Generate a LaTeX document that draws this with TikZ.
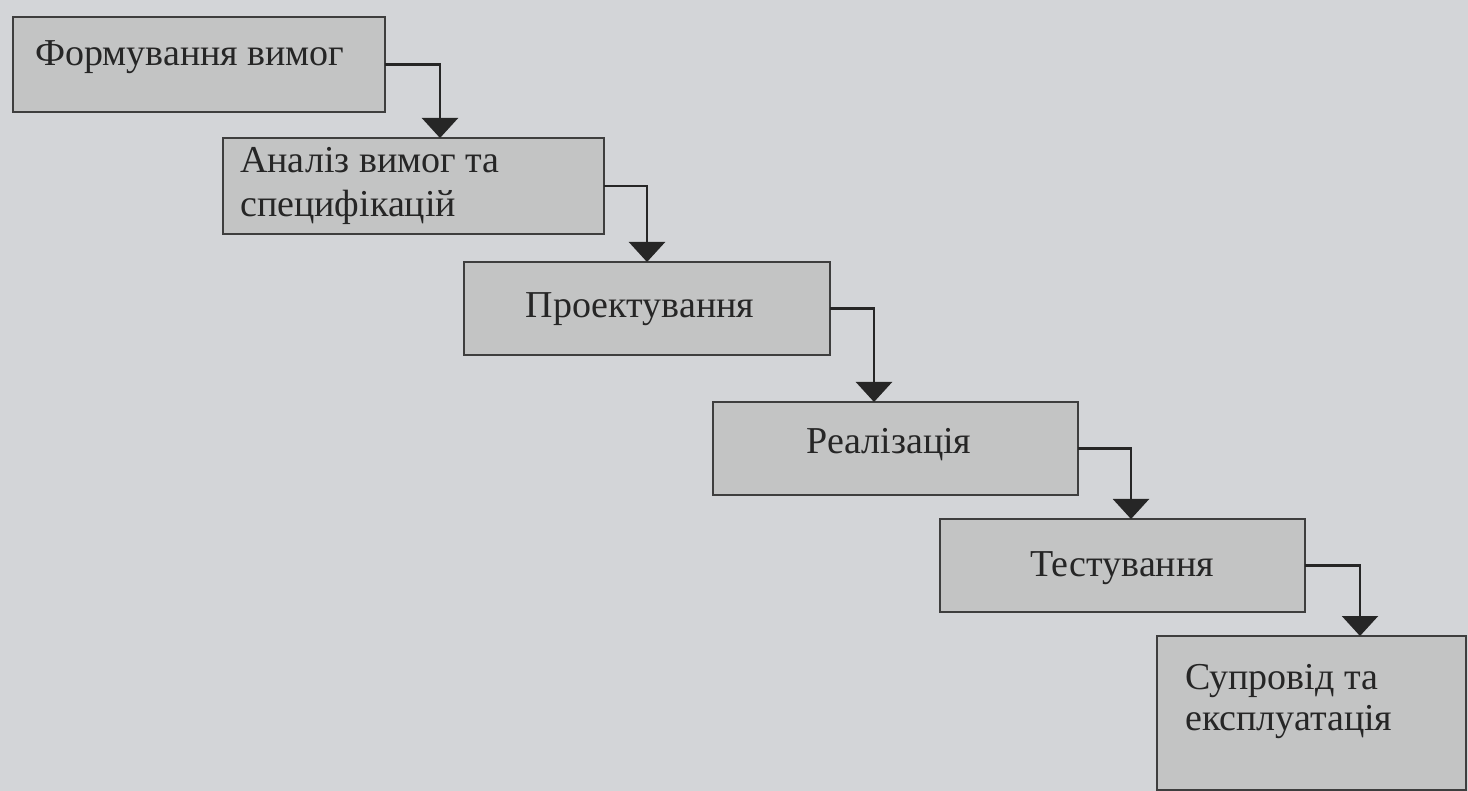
\documentclass[tikz,border=0pt]{standalone}
\usepackage{fontspec}
\setmainfont{Liberation Serif}
\usetikzlibrary{arrows.meta}
\definecolor{bg}{HTML}{D3D5D8}
\definecolor{boxfill}{HTML}{C3C4C4}
\definecolor{boxline}{HTML}{3E3E3E}
\definecolor{ink}{HTML}{262626}
\tikzset{
  stagebox/.style={draw=boxline, line width=2.6pt, fill=boxfill, anchor=north west,
    inner sep=0pt, outer sep=0pt},
  label text/.style={text=ink, inner sep=0pt, align=left,
    font=\fontsize{38}{44}\selectfont},
  flow/.style={draw=ink, line width=2.4pt,
    -{Triangle[width=36pt,length=20pt]}}
}
\begin{document}
\begin{tikzpicture}[x=1pt,y=-1pt]
\fill[bg] (0,0) rectangle (1468,791);
\useasboundingbox (0,0) rectangle (1468,791);
% boxes
\node[stagebox, minimum width=372pt, minimum height=95pt] (b1) at (13,17) {};
\node[stagebox, minimum width=381pt, minimum height=96pt] (b2) at (223,138) {};
\node[stagebox, minimum width=366pt, minimum height=93pt] (b3) at (464,262) {};
\node[stagebox, minimum width=365pt, minimum height=93pt] (b4) at (713,402) {};
\node[stagebox, minimum width=365pt, minimum height=93pt] (b5) at (940,519) {};
\node[stagebox, minimum width=309pt, minimum height=154pt] (b6) at (1157,636) {};
% texts
\node[label text, anchor=west] (t1) at (35,57) {Формування вимог};
\node[label text, anchor=west] (t2) at (240,186) {Аналіз вимог та\\специфікацій};
\node[label text] (t3) at (640,309) {Проектування};
\node[label text] (t4) at (889,445) {Реалізація};
\node[label text] (t5) at (1122,568) {Тестування};
\node[label text, anchor=west, font=\fontsize{38}{41}\selectfont] (t6) at (1185,702) {Супровід та\\експлуатація};
% connectors
\draw[flow] (b1.east) -| ([xshift=217pt]b2.north west);
\draw[flow] (b2.east) -| ([xshift=183pt]b3.north west);
\draw[flow] (b3.east) -| ([xshift=161pt]b4.north west);
\draw[flow] (b4.east) -| ([xshift=191pt]b5.north west);
\draw[flow] (b5.east) -| ([xshift=203pt]b6.north west);
\end{tikzpicture}
\end{document}
